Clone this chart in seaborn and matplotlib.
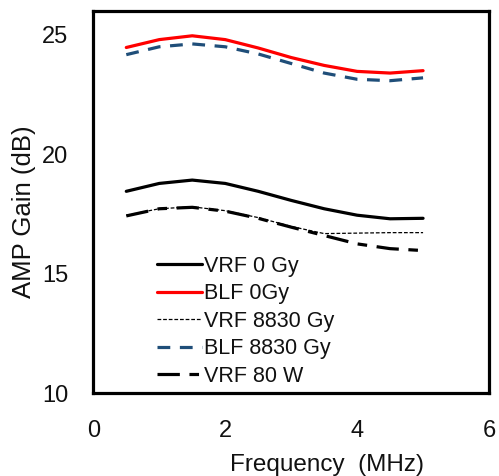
import matplotlib
matplotlib.use("Agg")
import matplotlib.pyplot as plt
import seaborn as sns
import pandas as pd

freq = [0.5, 1.0, 1.5, 2.0, 2.5, 3.0, 3.5, 4.0, 4.5, 5.0]
vrf_0gy = [18.45, 18.78, 18.92, 18.78, 18.45, 18.07, 17.72, 17.45, 17.30, 17.32]
blf_0gy = [24.47, 24.80, 24.96, 24.80, 24.45, 24.05, 23.72, 23.47, 23.40, 23.50]
vrf_8830 = [17.45, 17.72, 17.80, 17.64, 17.35, 16.98, 16.68, 16.70, 16.72, 16.72]
blf_8830 = [24.17, 24.50, 24.62, 24.50, 24.20, 23.80, 23.40, 23.14, 23.08, 23.20]
vrf_80w = [17.42, 17.72, 17.78, 17.62, 17.32, 16.95, 16.60, 16.25, 16.05, 15.97]

labels = ["VRF 0 Gy", "BLF 0Gy", "VRF 8830 Gy", "BLF 8830 Gy", "VRF 80 W"]
series = [vrf_0gy, blf_0gy, vrf_8830, blf_8830, vrf_80w]
colors = ["#000000", "#ff0000", "#000000", "#1f4e79", "#000000"]
widths = [2.3, 2.3, 0.9, 2.3, 2.3]
dashes = [None, None, (3, 1.5), (4, 3), (7, 3, 3, 3)]

sns.set_style("white")
plt.rcParams["font.family"] = ["Liberation Sans", "DejaVu Sans"]

fig, ax = plt.subplots(figsize=(4.99, 4.76), dpi=100)
fig.subplots_adjust(left=0.187, right=0.98, top=0.977, bottom=0.174)

for lab, vals, c, w, d in zip(labels, series, colors, widths, dashes):
    df = pd.DataFrame({"Frequency": freq, "Gain": vals})
    sns.lineplot(data=df, x="Frequency", y="Gain", ax=ax, color=c, lw=w, label=lab)
    ln = ax.lines[-1]
    if d is not None:
        ln.set_dashes(d)

ax.set_xlim(0, 6)
ax.set_ylim(10, 26)
ax.set_xticks([0, 2, 4, 6])
ax.set_yticks([10, 15, 20, 25])
ax.set_xlabel("Frequency  (MHz)", fontsize=17.5, color="#111111")
ax.set_ylabel("AMP Gain (dB)", fontsize=18.5, color="#111111")
ax.xaxis.set_label_coords(0.59, -0.16)
ax.yaxis.set_label_coords(-0.146, 0.475)
ax.tick_params(axis="both", direction="in", length=5, width=1, color="#888888",
               labelsize=17, labelcolor="#111111")
ax.tick_params(axis="x", pad=19)
ax.tick_params(axis="y", pad=18)
for s in ax.spines.values():
    s.set_color("black")
    s.set_linewidth(2.3)

leg = ax.legend(loc="lower left", bbox_to_anchor=(0.145, 0.0), frameon=False,
                fontsize=15.5, handlelength=2.1, handletextpad=0.08,
                labelspacing=0.3, borderaxespad=0.2, borderpad=0.1)
for t in leg.get_texts():
    t.set_color("#111111")

fig.savefig("out.png", dpi=100)
